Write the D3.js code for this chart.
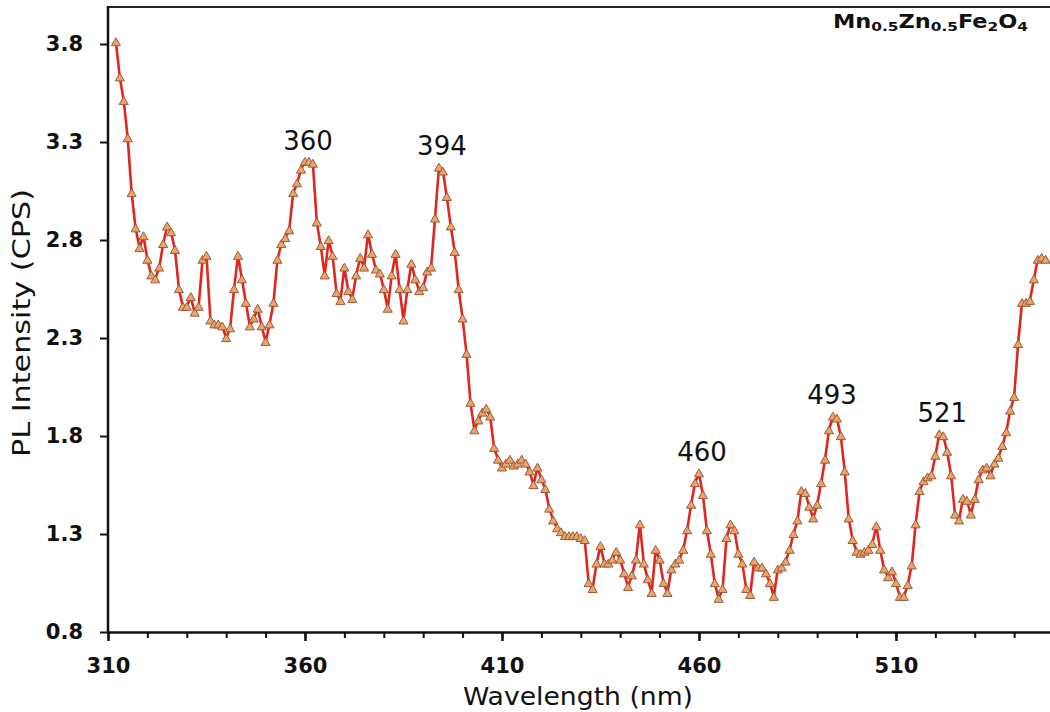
<!DOCTYPE html>
<html>
<head>
<meta charset="utf-8">
<script src="https://cdn.jsdelivr.net/npm/d3@7"></script>
<style>
  html, body { margin: 0; padding: 0; background: #fff; }
  svg { display: block; }
  text { font-family: "DejaVu Sans", "Liberation Sans", Arial, sans-serif; fill: #111; }
</style>
</head>
<body>
<svg id="chart" width="1050" height="712"></svg>
<script>
// ---- data ----
const startWavelength = 312;
const intensity = [
  3.81, 3.63, 3.51, 3.32, 3.04, 2.86, 2.76, 2.82, 2.70, 2.62,
  2.60, 2.66, 2.78, 2.87, 2.84, 2.75, 2.55, 2.46, 2.46, 2.51,
  2.43, 2.46, 2.70, 2.72, 2.39, 2.37, 2.37, 2.36, 2.30, 2.35,
  2.55, 2.72, 2.60, 2.48, 2.36, 2.40, 2.45, 2.36, 2.28, 2.37,
  2.48, 2.70, 2.78, 2.81, 2.85, 3.04, 3.09, 3.16, 3.20, 3.20,
  3.19, 2.89, 2.77, 2.62, 2.80, 2.72, 2.53, 2.49, 2.66, 2.54,
  2.50, 2.62, 2.71, 2.66, 2.83, 2.73, 2.65, 2.63, 2.55, 2.45,
  2.62, 2.73, 2.55, 2.39, 2.55, 2.68, 2.60, 2.54, 2.56, 2.64,
  2.66, 2.91, 3.17, 3.15, 3.02, 2.87, 2.74, 2.55, 2.40, 2.22,
  1.97, 1.83, 1.88, 1.92, 1.94, 1.90, 1.74, 1.68, 1.64, 1.66,
  1.68, 1.65, 1.66, 1.68, 1.66, 1.62, 1.55, 1.64, 1.58, 1.53,
  1.43, 1.37, 1.33, 1.31, 1.29, 1.29, 1.29, 1.29, 1.28, 1.27,
  1.05, 1.02, 1.15, 1.24, 1.15, 1.15, 1.17, 1.21, 1.17, 1.10,
  1.03, 1.09, 1.17, 1.35, 1.15, 1.07, 1.00, 1.22, 1.17, 1.05,
  1.00, 1.12, 1.15, 1.17, 1.22, 1.32, 1.45, 1.56, 1.61, 1.50,
  1.32, 1.20, 1.05, 0.97, 1.02, 1.28, 1.35, 1.32, 1.20, 1.15,
  1.02, 0.99, 1.16, 1.13, 1.13, 1.10, 1.05, 0.98, 1.12, 1.13,
  1.16, 1.22, 1.30, 1.37, 1.52, 1.51, 1.44, 1.38, 1.45, 1.56,
  1.68, 1.83, 1.90, 1.89, 1.80, 1.62, 1.38, 1.27, 1.21, 1.20,
  1.21, 1.22, 1.25, 1.34, 1.22, 1.12, 1.08, 1.11, 1.05, 0.98,
  0.98, 1.04, 1.14, 1.35, 1.52, 1.57, 1.59, 1.60, 1.70, 1.81,
  1.80, 1.72, 1.60, 1.40, 1.37, 1.48, 1.47, 1.40, 1.48, 1.58,
  1.63, 1.64, 1.60, 1.66, 1.69, 1.75, 1.82, 1.93, 2.00, 2.27,
  2.48, 2.48, 2.49, 2.60, 2.70, 2.71, 2.70
];
const wavelength = intensity.map((_, i) => startWavelength + i);

const xTickValues = [310, 360, 410, 460, 510];
const yTickValues = [0.8, 1.3, 1.8, 2.3, 2.8, 3.3, 3.8];
const peakWavelengths = [360, 394, 460, 493, 521];
const peakLabels = ["360", "394", "460", "493", "521"];

const xTitle = "Wavelength (nm)";
const yTitle = "PL Intensity (CPS)";

// ---- layout ----
const svg = d3.select("#chart");
const mLeft = 108, mRight = 1050, mTop = 6, mBottom = 632;

const x = d3.scaleLinear().domain([310, 549.1]).range([mLeft, mRight]);
const y = d3.scaleLinear().domain([0.8, 3.8]).range([mBottom, 44]);

const data = wavelength.map((w, i) => ({ w, v: intensity[i] }));

// top border
svg.append("line")
  .attr("x1", mLeft).attr("x2", mRight)
  .attr("y1", mTop + 1).attr("y2", mTop + 1)
  .attr("stroke", "#222").attr("stroke-width", 2);

// x axis: minor ticks then major
const minorTicks = d3.range(310, 549, 10);
const gxMinor = svg.append("g")
  .attr("transform", `translate(0,${mBottom})`)
  .call(d3.axisBottom(x).tickValues(minorTicks).tickSize(6).tickFormat(""));
gxMinor.select(".domain").remove();
gxMinor.selectAll("line").attr("stroke", "#111").attr("stroke-width", 2);

const gx = svg.append("g")
  .attr("transform", `translate(0,${mBottom})`)
  .call(d3.axisBottom(x).tickValues(xTickValues).tickSize(9).tickSizeOuter(0).tickPadding(17));
gx.select(".domain").attr("stroke", "#111").attr("stroke-width", 2.5);
gx.selectAll(".tick line").attr("stroke", "#111").attr("stroke-width", 2.5);
gx.selectAll("text")
  .style("font-size", "21px").style("font-weight", "bold")
  .attr("fill", "#111");

// y axis
const gy = svg.append("g")
  .attr("transform", `translate(${mLeft},0)`)
  .call(d3.axisLeft(y).tickValues(yTickValues).tickFormat(d3.format(".1f"))
    .tickSize(8).tickSizeOuter(0).tickPadding(17));
gy.select(".domain").attr("d", `M0,${mBottom}V${mTop}`).attr("stroke", "#111").attr("stroke-width", 2.5);
gy.selectAll(".tick line").attr("stroke", "#111").attr("stroke-width", 2);
gy.selectAll("text")
  .style("font-size", "21px").style("font-weight", "bold")
  .attr("fill", "#111");

// axis titles
svg.append("text")
  .attr("x", 578).attr("y", 705)
  .attr("text-anchor", "middle")
  .style("font-size", "24px")
  .attr("textLength", 230).attr("lengthAdjust", "spacingAndGlyphs")
  .text(xTitle);

svg.append("text")
  .attr("transform", `translate(30,${(mBottom + mTop) / 2 + 4}) rotate(-90)`)
  .attr("text-anchor", "middle")
  .style("font-size", "24px")
  .attr("textLength", 268).attr("lengthAdjust", "spacingAndGlyphs")
  .text(yTitle);

// line
const line = d3.line().x(d => x(d.w)).y(d => y(d.v));
svg.append("path")
  .datum(data)
  .attr("fill", "none")
  .attr("stroke", "#e0261e")
  .attr("stroke-width", 2.6)
  .attr("stroke-linejoin", "round")
  .attr("d", line);

// markers (triangles)
const tri = d3.symbol().type(d3.symbolTriangle).size(36);
svg.append("g").selectAll("path")
  .data(data)
  .join("path")
  .attr("transform", d => `translate(${x(d.w)},${y(d.v) + 1})`)
  .attr("d", tri)
  .attr("fill", "#e9a56a")
  .attr("stroke", "#9c5a3a")
  .attr("stroke-width", 1);

// peak labels
peakWavelengths.forEach((w, i) => {
  const near = data.filter(d => Math.abs(d.w - w) <= 1);
  const vmax = d3.max(near, d => d.v);
  svg.append("text")
    .attr("x", x(w) + 3)
    .attr("y", y(vmax) - 12)
    .attr("text-anchor", "middle")
    .style("font-size", "26px")
    .text(peakLabels[i]);
});

// compound label
const comp = svg.append("text")
  .attr("x", 833).attr("y", 28)
  .style("font-size", "19px").style("font-weight", "bold")
  .attr("textLength", 195).attr("lengthAdjust", "spacingAndGlyphs");
const parts = [["Mn", false], ["0.5", true], ["Zn", false], ["0.5", true], ["Fe", false], ["2", true], ["O", false], ["4", true]];
parts.forEach(([t, sub]) => {
  const ts = comp.append("tspan").text(t);
  if (sub) ts.attr("baseline-shift", "-25%").style("font-size", "13px");
});
</script>
</body>
</html>
